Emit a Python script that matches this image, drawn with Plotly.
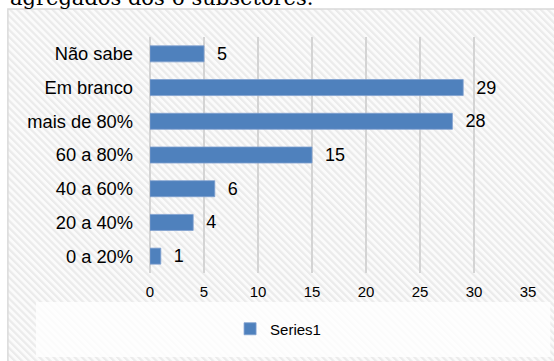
import plotly.graph_objects as go
import base64

categories = ["0 a 20%", "20 a 40%", "40 a 60%", "60 a 80%", "mais de 80%", "Em branco", "Não sabe"]
values = [1, 4, 6, 15, 28, 29, 5]
series_name = "Series1"
x_ticks = [0, 5, 10, 15, 20, 25, 30, 35]
title_text = "agregados dos 6 subsetores."

W, H = 554, 361
ML, MR, MT, MB = 150, 26.3, 37, 88
PW = W - ML - MR
PH = H - MT - MB

def px_x(p):
    return (p - ML) / PW

def px_y(p):
    return (H - MB - p) / PH

# hatch background image (decoration)
box_w, box_h = 560, 360
svg = f'''<svg xmlns="http://www.w3.org/2000/svg" width="{box_w}" height="{box_h}" viewBox="0 0 {box_w} {box_h}" preserveAspectRatio="none">
<defs><pattern id="h" patternUnits="userSpaceOnUse" width="5" height="5" patternTransform="rotate(-45)">
<rect width="5" height="5" fill="#fbfbfb"/><rect width="2.2" height="5" fill="#ebebeb"/></pattern></defs>
<rect width="{box_w}" height="{box_h}" fill="url(#h)"/></svg>'''
src = "data:image/svg+xml;base64," + base64.b64encode(svg.encode()).decode()

fig = go.Figure()
fig.add_trace(go.Bar(
    y=categories, x=values, orientation="h", name=series_name,
    marker=dict(color="#4f81bd", line=dict(color="#7f9fcf", width=0.8)),
    texttemplate="\u00a0\u00a0%{x}", textposition="outside", constraintext="none",
    textfont=dict(family="Liberation Sans, Arial", size=18, color="#000000"),
    cliponaxis=False, showlegend=True,
))

fig.update_layout(
    width=W, height=H,
    margin=dict(l=ML, r=MR, t=MT, b=MB, pad=0),
    paper_bgcolor="white", plot_bgcolor="rgba(0,0,0,0)",
    bargap=0.525,
    font=dict(family="Liberation Sans, Arial", color="#000000"),
    xaxis=dict(range=[0, 35], tickvals=x_ticks, showgrid=True, gridcolor="#d4d4d4", gridwidth=1.5,
               zeroline=True, zerolinecolor="#d4d4d4", zerolinewidth=1.5,
               showline=False, ticks="", tickfont=dict(size=15), ticklabelstandoff=8, fixedrange=True),
    yaxis=dict(showgrid=False, showline=False, ticks="", tickfont=dict(size=18.3), ticklabelstandoff=16),
    legend=dict(orientation="h", x=px_x(230), y=px_y(329), xanchor="left", yanchor="middle",
                font=dict(size=15), bgcolor="rgba(0,0,0,0)"),
    images=[dict(source=src, xref="paper", yref="paper", x=px_x(8), y=px_y(9),
                 sizex=px_x(8 + box_w) - px_x(8), sizey=px_y(9) - px_y(9 + box_h),
                 sizing="stretch", layer="below", xanchor="left", yanchor="top")],
    shapes=[
        dict(type="rect", xref="paper", yref="paper", x0=px_x(36), x1=px_x(550), y0=px_y(357), y1=px_y(302),
             fillcolor="rgba(255,255,255,0.8)", line=dict(width=0), layer="below"),
        dict(type="rect", xref="paper", yref="paper", x0=px_x(8), x1=px_x(8 + box_w), y0=px_y(9 + box_h), y1=px_y(9),
             fillcolor="rgba(0,0,0,0)", line=dict(color="#d9d9d9", width=1.5), layer="above"),
    ],
    annotations=[dict(text=title_text, xref="paper", yref="paper", x=px_x(8), y=px_y(-2),
                      xanchor="left", yanchor="middle", showarrow=False,
                      font=dict(family="DejaVu Serif", size=21, color="#000000"))],
)

fig.write_html("out.html")
